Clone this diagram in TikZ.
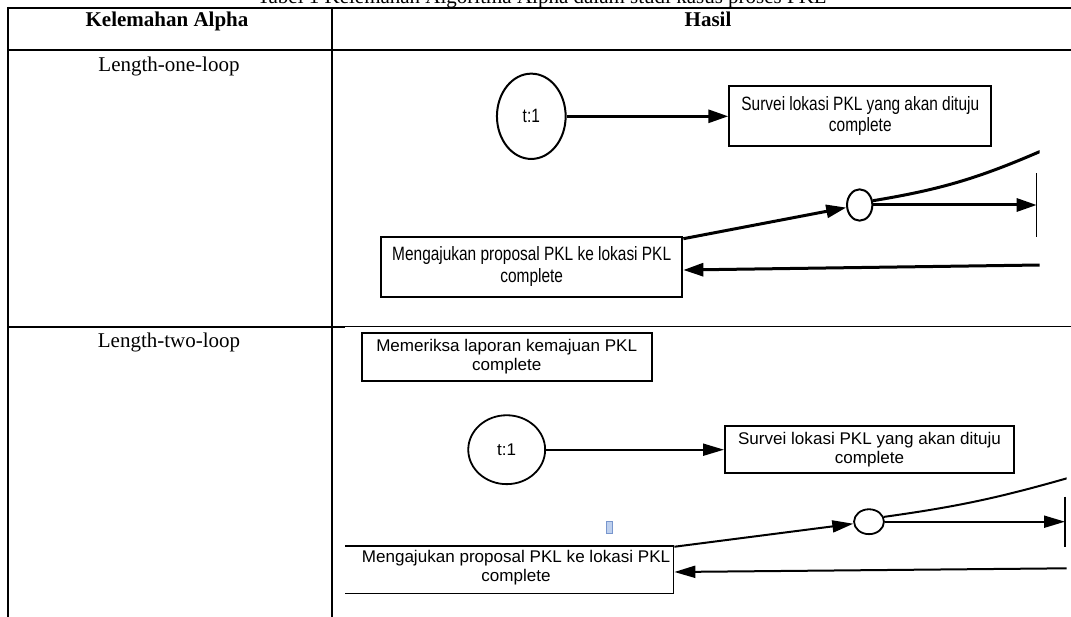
\documentclass[tikz,border=0pt]{standalone}
\usepackage{fontspec}
\setmainfont{Liberation Serif}
\newfontfamily\narrowsf[FakeStretch=0.80]{Liberation Sans}
\newfontfamily\widesf[FakeStretch=1.01]{Liberation Sans}
\usetikzlibrary{shapes.geometric,arrows.meta}
\definecolor{cursorfill}{RGB}{190,208,238}
\definecolor{cursorline}{RGB}{120,150,205}
\begin{document}
\begin{tikzpicture}[x=1pt,y=-1pt,
  tblline/.style={line width=2pt},
  celltext/.style={anchor=base,inner sep=0pt,font=\fontsize{21}{25}\selectfont},
  headtext/.style={anchor=base,inner sep=0pt,font=\bfseries\fontsize{21}{25}\selectfont},
  boxA/.style={draw,line width=2pt,rectangle,inner sep=0pt,align=center,
    font=\narrowsf\fontsize{19.3}{21.5}\selectfont},
  ellA/.style={draw,ellipse,line width=2pt,inner sep=0pt,
    font=\narrowsf\fontsize{19.3}{21.5}\selectfont},
  arrA/.style={line width=3pt,-{Triangle[length=20pt,width=13pt]}},
  lineA/.style={line width=3pt},
  boxB/.style={draw,line width=1.8pt,rectangle,inner sep=0pt,align=center,
    font=\widesf\fontsize{16.9}{19}\selectfont},
  txtB/.style={inner sep=0pt,align=center,font=\widesf\fontsize{16.9}{19}\selectfont},
  ellB/.style={draw,ellipse,line width=1.8pt,inner sep=0pt,
    font=\widesf\fontsize{16.9}{19}\selectfont},
  arrB/.style={line width=2pt,-{Triangle[length=21pt,width=12pt]}},
  lineB/.style={line width=2pt},
  barline/.style={line width=1.5pt}
]
\useasboundingbox (0,0) rectangle (1071,617);

% caption (cut off at the top)
\node[celltext] (cap) at (542,3.5) {Tabel 1 Kelemahan Algoritma Alpha dalam studi kasus proses PKL};

% table grid
\draw[tblline] (7,8) -- (1071,8);
\draw[tblline] (7,50) -- (1071,50);
\draw[tblline] (7,327) -- (345,327);
\draw[line width=1.2pt] (345,326.5) -- (1071,326.5);
\draw[tblline] (8,7) -- (8,617);
\draw[tblline] (332,7) -- (332,617);

% table texts
\node[headtext] (h1) at (167,26.5) {Kelemahan Alpha};
\node[headtext] (h2) at (708,26.5) {Hasil};
\node[celltext] (r1) at (169,72) {Length-one-loop};
\node[celltext] (r2) at (169,347.5) {Length-two-loop};

% ---------- diagram 1 ----------
\begin{scope}
\clip (340,51) rectangle (1039.5,325.5);
\node[ellA,minimum width=68.7pt,minimum height=85.3pt] (e1) at (531.3,116.3) {t:1};
\node[boxA,minimum width=262pt,minimum height=59.7pt] (s1) at (860.3,115.8)
  {Survei lokasi PKL yang akan dituju\\complete};
\node[boxA,minimum width=301.3pt,minimum height=60pt] (m1) at (531.7,266.7)
  {Mengajukan proposal PKL ke lokasi PKL\\complete};
\node[ellA,minimum width=25.3pt,minimum height=31.3pt] (c1) at (859.7,205) {};
\coordinate (bar1top) at (1036.7,173.3);
\coordinate (bar1bot) at (1036.7,236.7);
\coordinate (cur1) at (1040,151.5);
\coordinate (bot1) at (1040,265);
\draw[barline] (bar1top) -- (bar1bot);
\draw[arrA] (e1.east) -- (e1.east -| s1.west);
\draw[arrA] ([yshift=-3pt]m1.north east) -- (c1);
\draw[arrA] (c1.east) -- (c1.east -| bar1top);
\draw[lineA] (c1.18) to[bend right=7] (cur1);
\draw[arrA] (bot1) -- ([yshift=-3.3pt]m1.east);
\end{scope}

% ---------- diagram 2 ----------
\begin{scope}
\clip (345,328) rectangle (1066.5,617);
\node[boxB,minimum width=290.2pt,minimum height=47.6pt] (mem) at (506.7,357)
  {Memeriksa laporan kemajuan PKL\\complete};
\node[ellB,minimum width=76.9pt,minimum height=68.9pt] (e2) at (506.7,449.7) {t:1};
\node[boxB,minimum width=289.2pt,minimum height=47.2pt] (s2) at (869.5,449.5)
  {Survei lokasi PKL yang akan dituju\\complete};
\node[boxB,minimum width=332.5pt,minimum height=47.5pt] (m2) at (507.2,569.7) {};
\node[txtB] (m2t) at (516,568) {Mengajukan proposal PKL ke lokasi PKL\\complete};
\node[ellB,minimum width=29.9pt,minimum height=24.9pt] (c2) at (869,521.7) {};
\node[draw=cursorline,fill=cursorfill,line width=0.8pt,inner sep=0pt,
  minimum width=6pt,minimum height=12pt] (cursor) at (609,527) {};
\coordinate (bar2top) at (1065,496.7);
\coordinate (bar2bot) at (1065,546.7);
\coordinate (cur2) at (1068,478);
\coordinate (bot2) at (1068,568.3);
\draw[barline] (bar2top) -- (bar2bot);
\draw[arrB] (e2.east) -- (e2.east -| s2.west);
\draw[arrB] ([yshift=-1.7pt]m2.north east) -- (c2);
\draw[arrB] (c2.east) -- (c2.east -| bar2top);
\draw[lineB] (c2.18) to[bend right=4] (cur2);
\draw[arrB] (bot2) -- ([yshift=-2.3pt]m2.east);
\end{scope}
\end{tikzpicture}
\end{document}
